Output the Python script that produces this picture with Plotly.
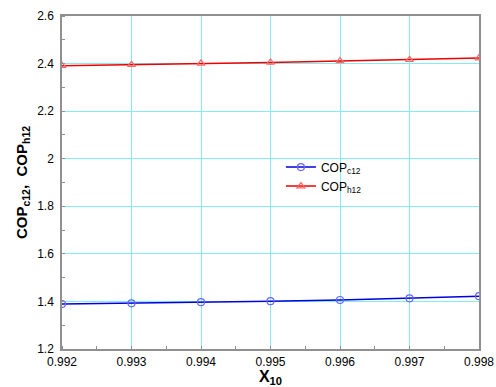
import plotly.graph_objects as go

x10 = [0.992, 0.993, 0.994, 0.995, 0.996, 0.997, 0.998]
cop_c12 = [1.389, 1.392, 1.397, 1.401, 1.406, 1.413, 1.422]
cop_h12 = [2.391, 2.395, 2.401, 2.405, 2.411, 2.416, 2.423]
x_ticks = [0.992, 0.993, 0.994, 0.995, 0.996, 0.997, 0.998]
y_ticks = [1.2, 1.4, 1.6, 1.8, 2.0, 2.2, 2.4, 2.6]
y_ticklabels = ["1.2", "1.4", "1.6", "1.8", "2", "2.2", "2.4", "2.6"]

FONT = "Arial, Liberation Sans, sans-serif"

fig = go.Figure()
fig.add_trace(go.Scatter(
    x=x10, y=cop_c12, mode="lines+markers", name="COP<sub>c12</sub>",
    line=dict(color="#0000dd", width=1.5),
    marker=dict(symbol="circle-open", size=7, color="#6666ff", line=dict(width=1.2)),
))
fig.add_trace(go.Scatter(
    x=x10, y=cop_h12, mode="lines+markers", name="COP<sub>h12</sub>",
    line=dict(color="#ee0000", width=1.5),
    marker=dict(symbol="triangle-up-open", size=7, color="#ff6666", line=dict(width=1.2)),
))

GRID = "#80eef2"
axis_common = dict(
    showline=True, linecolor="#909090", linewidth=1.5, mirror=True,
    showgrid=True, gridcolor=GRID, gridwidth=1,
    zeroline=False, ticks="", automargin=False,
    tickfont=dict(family=FONT, size=12, color="black"),
)
fig.update_xaxes(
    range=[0.992, 0.998], tickvals=x_ticks, ticktext=[f"{v:.3f}" for v in x_ticks],
    ticklabelstandoff=1,
    title=dict(text="<b>X<sub>10</sub></b>", font=dict(family=FONT, size=16, color="black"), standoff=4),
    minor=dict(dtick=0.0005, ticks="inside", ticklen=3, tickcolor="#909090", showgrid=False, gridcolor=GRID),
    **axis_common,
)
fig.update_yaxes(
    range=[1.2, 2.6], tickvals=y_ticks, ticktext=y_ticklabels,
    ticklabelstandoff=4,
    title=dict(text="<b>COP<sub>c12</sub>,  COP<sub>h12</sub></b>", font=dict(family=FONT, size=15, color="black"), standoff=6),
    minor=dict(dtick=0.1, ticks="inside", ticklen=3, tickcolor="#909090", showgrid=False, gridcolor=GRID),
    **axis_common,
)
fig.update_layout(
    width=496, height=387,
    margin=dict(l=62, r=17, t=16, b=38),
    paper_bgcolor="white", plot_bgcolor="white",
    showlegend=True,
    legend=dict(x=0.525, y=0.59, xanchor="left", yanchor="top", bgcolor="rgba(0,0,0,0)",
                font=dict(family=FONT, size=12, color="black"),
                tracegroupgap=12, itemwidth=30),
)
fig.write_html("out.html", config={"displayModeBar": False},
               post_script="document.body.style.margin='0';document.body.style.overflow='hidden';")
